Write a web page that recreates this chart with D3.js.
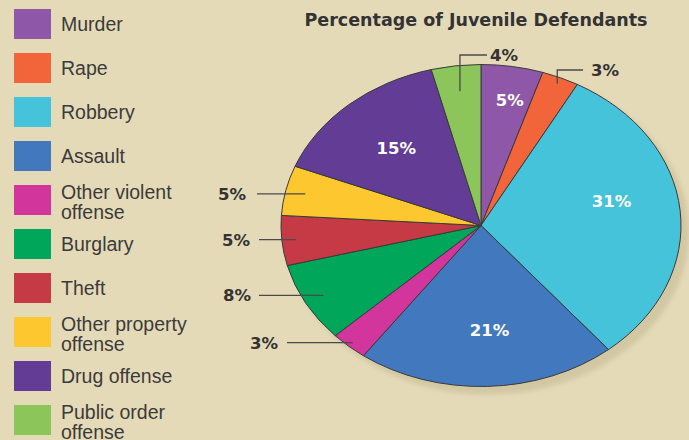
<!DOCTYPE html>
<html><head><meta charset="utf-8">
<script src="https://cdn.jsdelivr.net/npm/d3@7"></script>
<style>
html,body{margin:0;padding:0;background:#e5dab8;}
svg{display:block;}
</style></head>
<body>
<svg id="chart" width="689" height="440"></svg>
<script>
// ---- data ----
const categories = ["Murder","Rape","Robbery","Assault","Other violent offense","Burglary","Theft","Other property offense","Drug offense","Public order offense"];
const legendLines = [["Murder"],["Rape"],["Robbery"],["Assault"],["Other violent","offense"],["Burglary"],["Theft"],["Other property","offense"],["Drug offense"],["Public order","offense"]];
const values = [5,3,31,21,3,8,5,5,15,4];
const colors = ["#8e57a7","#f2643a","#45c3da","#4279be","#d2359b","#00a75b","#c63a46","#fdc82f","#633c95","#8cc65a"];
const title = "Percentage of Juvenile Defendants";

// ---- layout ----
const W = 689, H = 440;
const cx = 481, cy = 225.5, rx = 200, ry = 161;
const sx = rx / ry;
// outer label placement (category index -> style)
const outerLayout = {
  9: {type:"up", r:0.84, elbowY:55, endX:487, textX:490},
  1: {type:"up", r:0.96, elbowY:70, endX:583, textX:591},
  7: {type:"left", r:0.9, endX:257, textX:246},
  6: {type:"left", r:0.93, endX:259, textX:250},
  5: {type:"left", r:0.9, endX:259, textX:251},
  4: {type:"left", r:0.97, endX:287, textX:278}
};
// inner label placement tweaks (radius factor, angle shift in degrees)
const innerLayout = {
  0: {r:0.79, da:1.5},
  2: {r:0.67, da:-7.5},
  3: {r:0.65, da:-2},
  8: {r:0.64, da:0}
};

const svg = d3.select("#chart");
svg.append("rect").attr("width",W).attr("height",H).attr("fill","#e5dab8");

const defs = svg.append("defs");
defs.append("filter").attr("id","blur").attr("x","-10%").attr("y","-10%").attr("width","120%").attr("height","120%")
  .append("feGaussianBlur").attr("stdDeviation",2.5);

// shadow
svg.append("ellipse").attr("cx",cx+7).attr("cy",cy+7).attr("rx",rx+1).attr("ry",ry+1)
  .attr("fill","#d1c7a2").attr("filter","url(#blur)");

const pie = d3.pie().sort(null).value(d=>d)(values);
const arc = d3.arc().innerRadius(0).outerRadius(ry);

const g = svg.append("g").attr("transform",`translate(${cx},${cy}) scale(${sx},1)`);
g.selectAll("path").data(pie).join("path")
  .attr("d",arc)
  .attr("fill",(d,i)=>colors[i])
  .attr("stroke","#3a3a3a").attr("stroke-width",1)
  .attr("vector-effect","non-scaling-stroke")
  .attr("stroke-linejoin","round");

function pt(angle, r){ // angle from 12 o'clock clockwise, r normalized
  return [cx + Math.sin(angle)*rx*r, cy - Math.cos(angle)*ry*r];
}

const fontPct = "'DejaVu Sans', Verdana, sans-serif";

// inner labels
pie.forEach((d,i)=>{
  if (outerLayout[i]) return;
  const L = innerLayout[i] || {r:0.66, da:0};
  const mid = (d.startAngle + d.endAngle)/2 + L.da*Math.PI/180;
  const [x,y] = pt(mid, L.r);
  svg.append("text").attr("x",x).attr("y",y).attr("dy","0.36em")
    .attr("text-anchor","middle").attr("fill","#ffffff")
    .attr("font-family",fontPct).attr("font-weight","bold").attr("font-size",16.5)
    .text(d.value + "%");
});

// outer labels
pie.forEach((d,i)=>{
  const L = outerLayout[i];
  if (!L) return;
  const mid = (d.startAngle + d.endAngle)/2;
  const [x,y] = pt(mid, L.r);
  let path, tx, ty, anchor;
  if (L.type === "up") {
    path = `M${x},${y}V${L.elbowY}H${L.endX}`;
    tx = L.textX; ty = L.elbowY; anchor = "start";
  } else {
    path = `M${x},${y}H${L.endX}`;
    tx = L.textX; ty = y; anchor = "end";
  }
  svg.append("path").attr("d",path).attr("fill","none").attr("stroke","#4a4a4a").attr("stroke-width",1.3);
  svg.append("text").attr("x",tx).attr("y",ty).attr("dy","0.36em")
    .attr("text-anchor",anchor).attr("fill","#333333")
    .attr("font-family",fontPct).attr("font-weight","bold").attr("font-size",16.5)
    .text(d.value + "%");
});

// title
svg.append("text").attr("x",476).attr("y",20).attr("dy","0.36em")
  .attr("text-anchor","middle").attr("fill","#333333")
  .attr("font-family",fontPct).attr("font-weight","bold").attr("font-size",17.5)
  .text(title);

// legend
const ly = d3.scaleBand().domain(d3.range(categories.length)).range([9, 9+44*10]).paddingInner(0).paddingOuter(0);
const leg = svg.append("g");
categories.forEach((c,i)=>{
  const y0 = ly(i);
  leg.append("rect").attr("x",14).attr("y",y0).attr("width",37).attr("height",30).attr("fill",colors[i]);
  const lines = legendLines[i];
  const t = leg.append("text").attr("fill","#3b3b3b")
    .attr("font-family","'Liberation Sans', Arial, sans-serif").attr("font-size",19.5);
  lines.forEach((ln,k)=>{
    const yy = lines.length === 1 ? y0+15 : y0+7 + k*20;
    t.append("tspan").attr("x",61).attr("y",yy).attr("dy","0.35em").text(ln);
  });
});
</script>
</body></html>
